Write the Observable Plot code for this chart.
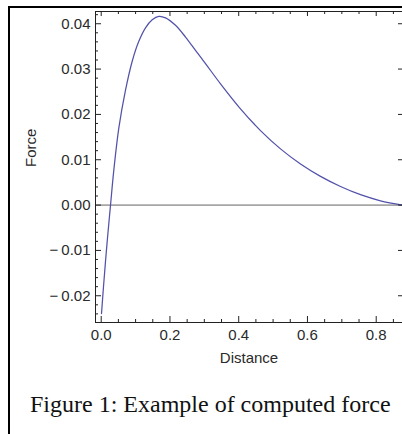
<!DOCTYPE html>
<html>
<head>
<meta charset="utf-8">
<script src="https://cdn.jsdelivr.net/npm/d3@7"></script>
<script src="https://cdn.jsdelivr.net/npm/@observablehq/plot@0.6"></script>
<style>
  html, body { margin: 0; padding: 0; background: #fff; overflow: hidden; width: 402px; height: 434px; }
  #box { position: absolute; left: 8px; top: 6px; width: 600px; height: 600px; border: 2px solid #000; box-sizing: border-box; }
  #chart { position: absolute; left: 0; top: 0; }
  #caption { position: absolute; left: 30px; top: 392px; font-family: "Liberation Serif", "Times New Roman", serif; font-size: 24px; line-height: 24px; color: #111; white-space: nowrap; }
</style>
</head>
<body>
<div id="box"></div>
<div id="chart"></div>
<div id="caption">Figure 1: Example of computed force</div>
<script>
// Data
const distance = [0.0009, 0.0067, 0.0125, 0.0183, 0.0271, 0.0367, 0.0512, 0.0707, 0.0902, 0.1094, 0.1289, 0.1484, 0.1676, 0.1871, 0.2161, 0.2452, 0.2743, 0.3034, 0.3471, 0.4052, 0.4634, 0.5216, 0.5798, 0.6380, 0.6962, 0.7543, 0.8125, 0.8765];
const force    = [-0.02392, -0.01797, -0.01242, -0.00727, 0.0, 0.00771, 0.01696, 0.02533, 0.03172, 0.03612, 0.03910, 0.04086, 0.04163, 0.04130, 0.03965, 0.03707, 0.03414, 0.03121, 0.02674, 0.02123, 0.01643, 0.01240, 0.00907, 0.00634, 0.00410, 0.00229, 0.00095, 0.0];

const xDomain = [-0.0166, 0.8765];
const yDomain = [-0.0259, 0.0427];
const xMajor = [0, 0.2, 0.4, 0.6, 0.8];
const yMajor = [-0.02, -0.01, 0, 0.01, 0.02, 0.03, 0.04];
const xMinor = d3.range(1, 18).map(i => i * 0.05).filter(v => !xMajor.some(m => Math.abs(m - v) < 1e-9));
const yMinor = d3.range(-12, 22).map(i => i * 0.002).filter(v => !yMajor.some(m => Math.abs(m - v) < 1e-9));
const zeroLine = [0];
const xLabel = "Distance";
const yLabel = "Force";

const data = distance.map((d, i) => ({distance: d, force: force[i]}));

const W = 402, H = 380;
const mL = 95, mR = 0, mT = 11, mB = 58;
const pw = W - mL - mR, ph = H - mT - mB;
const frameColor = "#222";
const textColor = "#2a2a2a";
const fmtY = v => (v < 0 ? "\u2212\u2009" : "") + Math.abs(v).toFixed(2);

const chart = Plot.plot({
  width: W, height: H,
  marginLeft: mL, marginRight: mR, marginTop: mT, marginBottom: mB,
  style: {fontFamily: "'Liberation Sans', Arial, sans-serif", fontSize: "15px", background: "transparent", color: textColor, overflow: "visible"},
  x: {domain: xDomain, label: null},
  y: {domain: yDomain, label: null},
  marks: [
    Plot.ruleY(zeroLine, {stroke: "#a6a6a6", strokeWidth: 1.6}),
    Plot.line(data, {x: "distance", y: "force", stroke: "#5252aa", strokeWidth: 1.25, curve: "catmull-rom"}),
    // frame: left, top, bottom
    Plot.ruleX([xDomain[0]], {stroke: frameColor}),
    Plot.ruleY([yDomain[0]], {stroke: frameColor}),
    Plot.ruleY([yDomain[1]], {stroke: frameColor}),
    // left ticks (inward)
    Plot.tickY(yMajor, {y: d => d, insetRight: pw - 6, stroke: frameColor}),
    Plot.tickY(yMinor, {y: d => d, insetRight: pw - 3, stroke: frameColor}),
    // right ticks (inward)
    Plot.tickY(yMajor, {y: d => d, insetLeft: pw - 4, stroke: frameColor}),
    // bottom ticks
    Plot.tickX(xMajor, {x: d => d, insetTop: ph - 6, stroke: frameColor}),
    Plot.tickX(xMinor, {x: d => d, insetTop: ph - 3, stroke: frameColor}),
    // top ticks
    Plot.tickX(xMajor, {x: d => d, insetBottom: ph - 5, stroke: frameColor}),
    Plot.tickX(xMinor, {x: d => d, insetBottom: ph - 3, stroke: frameColor}),
    Plot.axisX({ticks: xMajor, tickSize: 0, tickPadding: 7, tickFormat: d => d.toFixed(1), label: null, fill: textColor}),
    Plot.axisY({ticks: yMajor, tickSize: 0, tickPadding: 5, tickFormat: fmtY, label: null, fill: textColor}),
    Plot.text([xLabel], {frameAnchor: "bottom", dy: 40, fill: textColor, fontSize: 15}),
    Plot.text([yLabel], {frameAnchor: "left", dx: -64, rotate: -90, fill: textColor, fontSize: 15})
  ]
});
document.getElementById("chart").appendChild(chart);
</script>
</body>
</html>
